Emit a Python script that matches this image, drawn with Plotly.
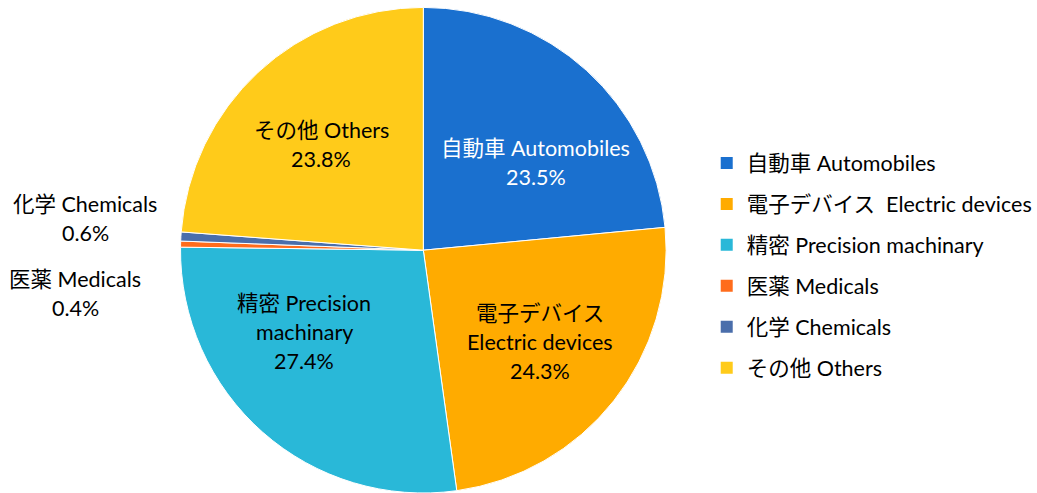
import plotly.graph_objects as go

# slice data, clockwise from 12 o'clock
labels = ["自動車 Automobiles", "電子デバイス  Electric devices", "精密 Precision machinary",
          "医薬 Medicals", "化学 Chemicals", "その他 Others"]
label_lines = [["自動車 Automobiles"], ["電子デバイス", "Electric devices"],
               ["精密 Precision", "machinary"], ["医薬 Medicals"], ["化学 Chemicals"],
               ["その他 Others"]]
values = [23.5, 24.3, 27.4, 0.4, 0.6, 23.8]
colors = ["#1a70cf", "#ffab00", "#29b8d8", "#ff6c1c", "#4a6eab", "#ffcb1a"]
text_colors = ["white", "black", "black", "black", "black", "black"]

FONT = "Lato, 'Noto Sans CJK JP', sans-serif"
FS = 21.5
W, H = 1037, 493

# label block placement (pixel centre x, first-line y) per slice
label_pos = [(542, 148), (546, 313), (308, 303), (76, 279), (86, 204), (325, 130)]
LINE_GAP = 29

fig = go.Figure()

fig.add_trace(go.Pie(
    labels=labels,
    values=values,
    sort=False,
    direction="clockwise",
    rotation=0,
    marker=dict(colors=colors, line=dict(color="white", width=1)),
    textinfo="none",
    hoverinfo="label+value",
    showlegend=False,
    domain=dict(x=[0.176, 0.650], y=[0.0, 0.985]),
))

# legend built from dummy traces so the spacing can be controlled
for name, col in zip(labels, colors):
    fig.add_trace(go.Scatter(
        x=[None], y=[None], mode="markers", name=name, legendgroup=name,
        marker=dict(symbol="square", size=11, color=col),
    ))

# slice labels, one annotation per line
for lines, val, tc, (px, py) in zip(label_lines, values, text_colors, label_pos):
    for k, line in enumerate(lines + [f"{val:.1f}%"]):
        fig.add_annotation(
            x=px / W, y=1 - (py + k * LINE_GAP) / H, xref="paper", yref="paper",
            showarrow=False, text=line, xanchor="center", yanchor="middle",
            font=dict(family=FONT, size=FS, color=tc),
        )

fig.update_xaxes(visible=False)
fig.update_yaxes(visible=False)
fig.update_layout(
    width=W, height=H,
    margin=dict(l=0, r=0, t=0, b=0),
    paper_bgcolor="white", plot_bgcolor="white",
    font=dict(family=FONT, size=FS, color="black"),
    legend=dict(x=715 / W, y=0.711, xanchor="left", yanchor="top",
                tracegroupgap=10, itemsizing="constant",
                font=dict(family=FONT, size=FS, color="black")),
)

fig.write_html("out.html", config={"displayModeBar": False},
               post_script="document.body.style.margin='0';")
